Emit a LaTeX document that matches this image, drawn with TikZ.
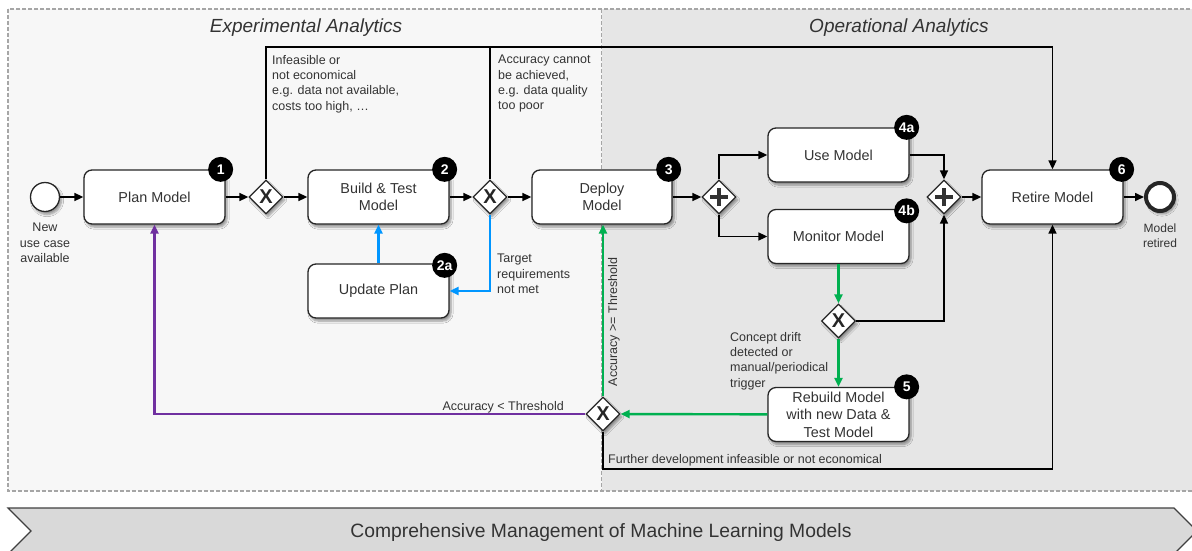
\documentclass[tikz,border=0pt]{standalone}
\usepackage{fontspec}
\setmainfont{Liberation Sans}
\usetikzlibrary{arrows.meta,shapes.geometric,shadows.blur}

\definecolor{txtgray}{HTML}{333333}
\definecolor{expfill}{HTML}{F7F7F7}
\definecolor{opsfill}{HTML}{E6E6E6}
\definecolor{framegray}{HTML}{A6A6A6}
\definecolor{okgreen}{HTML}{00B050}
\definecolor{fixblue}{HTML}{0096FF}
\definecolor{backpurple}{HTML}{7030A0}
\definecolor{bandfill}{HTML}{D9D9D9}

\tikzset{
  soft/.style={blur shadow={shadow xshift=2pt, shadow yshift=-3pt, shadow blur steps=6, shadow opacity=40}},
  task/.style={draw=black!85, fill=white, rounded corners=8pt, line width=1.3pt,
    minimum width=141pt, minimum height=54pt, align=center, text=txtgray,
    font=\fontsize{14.4}{17}\selectfont, soft},
  gate/.style={diamond, draw=black!85, fill=white, line width=1.3pt, minimum width=34pt,
    minimum height=34pt, inner sep=0pt, soft},
  xgate/.style={gate, font=\fontsize{20}{20}\selectfont\bfseries, text=black!85},
  andgate/.style={gate, path picture={
    \draw[line width=4.5pt, black!80] ([xshift=-9pt]path picture bounding box.center) -- ++(18pt,0pt);
    \draw[line width=4.5pt, black!80] ([yshift=-9pt]path picture bounding box.center) -- ++(0pt,18pt);}},
  badge/.style={circle, fill=black, text=white, font=\fontsize{14}{14}\selectfont\bfseries,
    minimum size=25pt, inner sep=0pt},
  note/.style={text=txtgray, font=\fontsize{12.5}{15.3}\selectfont, align=left, inner sep=0pt},
  seq/.style={-{Triangle[length=9pt,width=8pt]}, line width=1.6pt},
  loop/.style={seq, line width=2.4pt},
}

\begin{document}
\begin{tikzpicture}[x=1pt,y=-1pt]
\useasboundingbox (0,0) rectangle (1192,550);
% the two analytics areas
\fill[expfill] (8,9) rectangle (601.5,491);
\fill[opsfill] (601.5,9) rectangle (1200,491);
\draw[framegray, line width=1.2pt, dash pattern=on 4pt off 2pt] (8,9) rectangle (1200,491);
\draw[framegray, line width=1.2pt, dash pattern=on 4pt off 2pt] (601.5,9) -- (601.5,491);
\node[font=\fontsize{19}{19}\selectfont\itshape, text=txtgray] (exptitle) at (306,28) {Experimental Analytics};
\node[font=\fontsize{19}{19}\selectfont\itshape, text=txtgray] (opstitle) at (899,28) {Operational Analytics};

\coordinate (topline) at (0,47);
\coordinate (botline) at (0,469);

\node[circle, draw=black!85, fill=white, line width=1.3pt, minimum size=29pt, inner sep=0pt, soft] (start) at (45,197) {};
\node[note, anchor=north, align=center] (startlbl) at (45,223) {New\\use case\\available};
\node[task] (plan) at (154.5,197) {Plan Model};
\node[xgate] (xa) at (266,197) {X};
\node[task] (build) at (378.5,197) {Build \& Test\\Model};
\node[xgate] (xb) at (490,197) {X};
\node[task, minimum width=140pt] (deploy) at (602,197) {Deploy\\Model};
\node[andgate] (pa) at (719,197) {};
\node[task] (use) at (838.5,155) {Use Model};
\node[task] (monitor) at (838.5,236.5) {Monitor Model};
\node[andgate] (pb) at (944,197) {};
\node[task] (retire) at (1052.5,197) {Retire Model};
\node[circle, draw=black!85, fill=white, line width=4pt, minimum size=28pt, inner sep=0pt, soft] (finish) at (1160,197) {};
\node[note, anchor=north, align=center, font=\fontsize{12}{15}\selectfont] (finishlbl) at (1160,224) {Model\\retired};
\node[task] (update) at (378.5,291) {Update Plan};
\node[xgate] (xc) at (838.5,321) {X};
\node[task, font=\fontsize{14.4}{17.5}\selectfont] (rebuild) at (838.5,414.5) {Rebuild Model\\with new Data \&\\Test Model};
\node[xgate] (xd) at (603,414) {X};

\node[badge] (b1) at ([xshift=-5pt]plan.north east) {1};
\node[badge] (b2) at ([xshift=-5pt]build.north east) {2};
\node[badge] (b2a) at ([xshift=-5pt,yshift=-2pt]update.north east) {2a};
\node[badge] (b3) at ([xshift=-4pt]deploy.north east) {3};
\node[badge] (b4a) at ([xshift=-3pt]use.north east) {4a};
\node[badge] (b4b) at ([xshift=-3pt,yshift=-2pt]monitor.north east) {4b};
\node[badge] (b5) at ([xshift=-3pt]rebuild.north east) {5};
\node[badge] (b6) at ([xshift=-2pt]retire.north east) {6};

% main sequence
\draw[seq] (start) -- (plan);
\draw[seq] (plan) -- (xa);
\draw[seq] (xa) -- (build);
\draw[seq] (build) -- (xb);
\draw[seq] (xb) -- (deploy);
\draw[seq] (deploy) -- (pa);
\draw[seq] (pa.north) |- (use.west);
\draw[seq] (pa.south) |- (monitor.west);
\draw[seq] (use.east) -| (pb.north);
\draw[seq] (pb) -- (retire);
\draw[seq] (retire) -- (finish);
\draw[seq] (xa.north) |- (topline -| retire) -- (retire.north);
\draw[line width=1.6pt] (xb.north) -- (xb |- topline);
\draw[seq] (xc.east) -| (pb.south);
\draw[seq] (xd.south) -- (xd |- botline) -| (retire.south);

% loops back
\draw[loop, fixblue] (update) -- (build);
\draw[loop, fixblue] (xb.south) |- (update.east);
\draw[loop, okgreen] (monitor) -- (xc);
\draw[loop, okgreen] (xc) -- (rebuild);
\draw[loop, okgreen] (rebuild) -- (xd);
\draw[loop, okgreen] (xd.north) -- (xd.north |- deploy.south);
\draw[loop, backpurple] (xd.west) -| (plan.south);

\node[note, anchor=north west] (infeasible) at (272,55) {Infeasible or\\not economical\\e.g. data not available,\\costs too high, \dots};
\node[note, anchor=north west] (noacc) at (498,55) {Accuracy cannot\\be achieved,\\e.g. data quality\\too poor};
\node[note, anchor=north west] (target) at (497,254) {Target\\requirements\\not met};
\node[note, anchor=north west] (drift) at (730,332) {Concept drift\\detected or\\manual/periodical\\trigger};
\node[note, anchor=base east] (below) at (564,410) {Accuracy < Threshold};
\node[note, rotate=90] (above) at (614,322) {Accuracy >= Threshold};
\node[note, anchor=base west] (further) at (608,463) {Further development infeasible or not economical};

% bottom band
\draw[fill=bandfill, draw=black!75, line width=1.2pt] (8,508) -- (1174,508) -- (1197,531) -- (1174,554) -- (8,554) -- (31,531) -- cycle;
\node[text=txtgray, font=\fontsize{19.3}{19.3}\selectfont] (band) at (601,532) {Comprehensive Management of Machine Learning Models};
\end{tikzpicture}
\end{document}
